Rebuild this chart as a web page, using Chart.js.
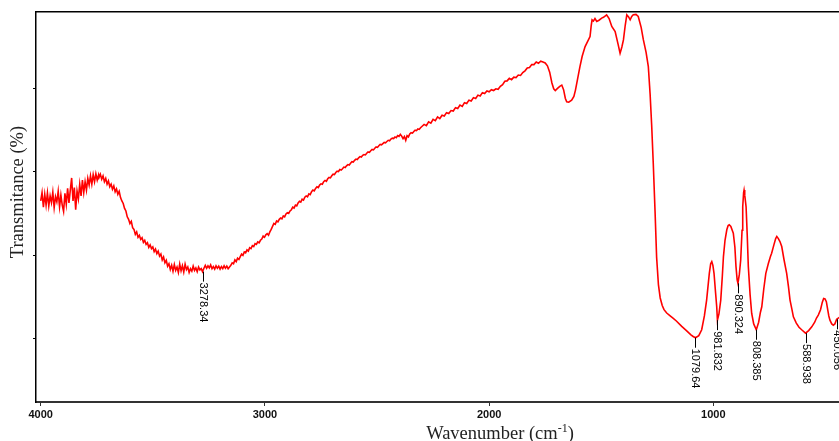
<!DOCTYPE html>
<html><head><meta charset="utf-8">
<script src="https://cdn.jsdelivr.net/npm/chart.js@4.4.1/dist/chart.umd.min.js"></script>
<style>html,body{margin:0;padding:0;background:#fff;overflow:hidden}canvas{display:block}</style>
</head><body>
<canvas id="c" width="839" height="441"></canvas>
<script>
// Tick values
const xTicks = [1000, 2000, 3000, 4000];
const yTicks = [20, 40, 60, 80];

// Spectrum segments: [wavenumber (cm-1), transmittance]
const noisyOH = [
[4000,53.0],[3994,55.0],[3988,51.5],[3982,54.6],[3976,52.0],[3970,54.9],[3964,51.8],[3958,54.2],[3952,52.6],[3946,55.1],
[3940,51.4],[3934,54.0],[3928,52.8],[3922,55.3],[3916,51.6],[3910,54.4],[3904,52.0],[3898,50.5],[3892,54.8],[3886,52.2],
[3880,56.0],[3874,52.5],[3868,55.6],[3862,58.5],[3856,53.0],[3850,56.2],[3844,50.9],[3838,55.4],[3832,53.5],[3826,57.0],
[3820,54.2],[3814,58.0],[3808,55.0],[3802,57.6],[3796,55.6],[3790,58.4],[3784,56.8],[3778,59.0],[3772,57.0],[3766,59.3],
[3760,57.6],[3754,59.5],[3748,58.0],[3742,59.2]
];
const broadBand = [
[3740,58.6],[3734,59.4],[3728,58.2],[3722,59.0],[3716,57.6],[3710,58.4],[3704,57.0],[3698,57.8],[3692,56.4],[3686,57.0],
[3680,55.8],[3674,56.6],[3668,55.2],[3662,55.9],[3656,54.6],[3650,55.3],[3644,53.8],[3638,53.0],[3632,52.4],[3626,51.2],
[3620,50.6],[3614,49.2],[3608,48.6],[3602,47.6],[3596,48.1],[3590,46.6],[3584,46.2],[3578,45.0],[3572,45.6],[3566,44.3],
[3560,44.8],[3554,43.8],[3548,44.2],[3542,43.1],[3536,43.6],[3530,42.6],[3524,43.0],[3518,41.9],[3512,42.5],[3506,41.6],
[3500,42.0],[3494,40.9],[3488,41.5],[3482,40.4],[3476,41.0],[3470,39.8],[3464,40.3],[3458,38.9],[3452,39.6],[3446,38.2],
[3440,38.8],[3434,37.4],[3428,38.0],[3422,36.6],[3416,37.6],[3410,36.2],[3404,37.8],[3398,36.4],[3392,37.2],[3386,35.9],
[3380,37.9],[3374,36.3],[3368,37.5],[3362,36.0],[3356,37.9],[3350,36.6],[3344,37.2],[3338,35.9],[3332,36.8],[3326,36.2],
[3320,37.4],[3314,36.4],[3308,37.0],[3302,36.1],[3296,37.2],[3290,36.5],[3284,36.8],[3278.34,36.1],[3272,36.9],[3266,37.6],
[3260,36.9],[3254,37.5],[3248,37.0],[3242,37.7],[3236,36.8],[3230,37.3],[3224,36.7],[3218,37.5],[3212,36.9],[3206,37.4],
[3200,36.7],[3194,37.3],[3188,36.8],[3182,37.5],[3176,36.9],[3170,37.4],[3164,36.8],[3158,37.2],[3152,37.6],[3146,38.2],
[3140,38.0],[3134,38.9],[3128,38.5],[3122,39.3],[3116,39.0],[3110,39.7],[3104,40.3],[3098,40.0],[3092,40.8],[3086,40.6],
[3080,41.3],[3074,41.0],[3068,41.8],[3062,41.6],[3056,42.3],[3050,42.1],[3044,42.8],[3038,42.6],[3032,43.2],[3026,43.0],
[3020,43.6],[3014,43.9],[3008,44.6],[3002,44.3],[2996,44.9],[2990,45.2],[2984,44.8],[2978,45.6],[2972,46.2],[2966,46.9],
[2960,47.6],[2954,47.4],[2948,48.2],[2942,48.0],[2936,48.6],[2930,48.9],[2924,48.7],[2918,49.4],[2912,49.2],[2906,49.9],
[2900,50.2],[2894,50.0],[2888,50.6],[2882,50.9],[2876,51.5],[2870,51.3],[2864,52.0],[2858,51.8],[2852,52.5],[2846,52.9],
[2840,52.7],[2834,53.4],[2828,53.2],[2822,53.9],[2816,54.2],[2810,54.0],[2804,54.7],[2798,54.5],[2792,55.2],[2786,55.6],
[2780,55.4],[2774,56.0],[2768,56.4],[2762,56.2],[2756,56.8],[2750,57.1],[2744,57.0],[2738,57.6],[2732,57.9],[2726,57.7],
[2720,58.3],[2714,58.6],[2708,58.5],[2702,59.0],[2696,59.4],[2690,59.3],[2684,59.8],[2678,60.1],[2672,60.0],[2666,60.5],
[2660,60.4],[2654,60.7],[2648,61.1],[2642,61.0],[2636,61.4],[2630,61.7],[2624,61.6],[2618,62.0],[2612,62.4],[2606,62.3],
[2600,62.7],[2594,63.0],[2588,62.9],[2582,63.3],[2576,63.6],[2570,63.5],[2564,63.9],[2558,64.1],[2552,64.0],[2546,64.4],
[2540,64.7],[2534,64.6],[2528,65.0],[2522,65.3],[2516,65.2],[2510,65.6],[2504,65.9],[2498,65.8],[2492,66.2],[2486,66.5],
[2480,66.4],[2474,66.7],[2468,67.0],[2462,66.9],[2456,67.2],[2450,67.5],[2444,67.4],[2438,67.8],[2432,68.0],[2426,67.9],
[2420,68.3],[2414,68.1],[2408,68.6],[2402,68.4],[2396,68.9],[2390,68.5],[2384,67.9],[2378,68.4],[2372,67.5],[2366,68.6],
[2360,68.3],[2354,69.0],[2348,69.3],[2342,69.2],[2336,69.6],[2330,69.9],[2324,69.8],[2318,70.2],[2312,70.1],[2306,70.5],
[2300,70.8],[2290,71.3],[2280,71.0],[2270,71.9],[2260,71.6],[2250,72.5],[2240,72.2],[2230,73.1],[2220,72.7],[2210,73.5],
[2200,73.3],[2190,74.1],[2180,73.9],[2170,74.6],[2160,74.5],[2150,75.3],[2140,75.1],[2130,75.9],[2120,75.6],[2110,76.5],
[2100,76.3],[2090,77.1],[2080,76.9],[2070,77.7],[2060,77.5],[2050,78.3],[2040,78.1],[2030,78.9],[2020,78.7],[2010,79.3],
[2000,79.1],[1990,79.6],[1980,79.4],[1970,79.8],[1960,79.7],[1950,80.4],[1940,80.8],[1930,81.6],[1920,81.7],[1910,82.3],
[1900,82.0],[1890,82.6],[1880,82.5],[1870,83.1],[1860,83.0],[1850,83.7],[1840,84.1],[1830,84.8],[1820,84.9],[1810,85.6],
[1800,85.6],[1790,86.2],[1780,85.9],[1770,86.4],[1760,86.2]
];
const midRegion = [
[1750,86.0],[1740,85.3],[1730,83.8],[1720,81.2],[1712,79.8],[1705,79.4],[1695,79.9],[1685,80.4],[1676,80.7],[1668,79.6],
[1660,77.5],[1654,76.7],[1645,76.6],[1632,77.1],[1622,78.0],[1615,79.5],[1605,82.3],[1595,85.1],[1585,87.6],[1572,89.9],
[1560,91.2],[1550,92.3],[1545,94.8],[1541,96.3],[1535,96.0],[1528,96.6],[1520,95.9],[1510,96.2],[1498,96.7],[1490,96.9],
[1476,97.5],[1465,96.6],[1453,94.7],[1438,93.5],[1425,90.5],[1416,88.3],[1408,89.8],[1401,91.5],[1393,95.0],[1386,97.5],
[1378,97.0],[1371,96.3],[1364,97.1],[1357,97.5],[1345,97.6],[1335,97.1],[1322,94.5],[1312,91.5],[1300,88.5],[1290,85.1],
[1282,78.5],[1275,71.0],[1268,62.0],[1260,50.5],[1253,39.5],[1245,33.0],[1237,29.8],[1228,28.0],[1220,27.0],[1208,26.2],
[1194,25.6],[1180,25.0],[1165,24.3],[1141,23.0],[1120,22.0],[1100,21.0],[1090,20.6]
];
const fingerprint = [
[1079.64,20.3],[1065,20.8],[1052,22.2],[1040,25.5],[1030,29.3],[1018,35.7],[1012,38.0],[1007,38.5],[1002,37.6],[997,35.7],
[990,31.0],[985,27.7],[981.832,24.5],[975,26.0],[967,29.3],[960,35.0],[955,39.7],[948,43.6],[940,46.1],[934,47.1],
[929,47.3],[922,46.9],[911,45.3],[904,42.0],[899,37.3],[894,34.2],[890.324,33.3],[884,35.5],[878,38.9],[872,46.0],
[869,51.6],[865,55.0],[863,55.6],[860,54.4],[854,51.6],[849,45.0],[844,37.3],[836,30.5],[829,26.1],[820,23.6],
[808.385,22.2],[798,24.0],[790,26.4],[784,27.7],[775,32.0],[766,35.7],[755,38.0],[745,39.8],[740,40.5],[730,42.5],
[722,44.0],[717,44.5],[710,44.0],[703,43.3],[695,42.1],[685,39.0],[673,35.7],[665,32.5],[658,29.3],[650,27.2],
[643,25.3],[630,23.8],[618,22.8],[606,22.2],[588.938,21.4],[575,22.0],[561,22.9],[548,24.0],[540,25.0],[532,25.7],
[522,27.0],[514,28.8],[508,29.7],[502,29.6],[496,28.9],[490,27.0],[485,25.5],[480,24.5],[472,23.6],[465,23.3],
[458,23.6],[450.056,24.7],[443,25.0],[436,25.2]
];

// Peak annotations
const peakLabels = ["3278.34","1079.64","981.832","890.324","808.385","588.938","450.056"];
const peakWavenumbers = [3278.34,1079.64,981.832,890.324,808.385,588.938,450.056];
const peakTransmittance = [36.1,20.3,24.5,33.3,22.2,21.4,24.7];

const spectrum = [].concat(noisyOH, broadBand, midRegion, fingerprint).map(p => ({x: p[0], y: p[1]}));

const X_MIN = 439.6, X_MAX = 4021;
const Y_MIN = 4.93, Y_MAX = 98.17;

const annotate = {
  id: 'annotate',
  afterDraw(chart) {
    const ctx = chart.ctx, xs = chart.scales.x, ys = chart.scales.y;
    ctx.save();
    ctx.strokeStyle = '#000'; ctx.lineWidth = 1; ctx.fillStyle = '#000';
    ctx.font = '11px "Liberation Sans", Arial, sans-serif';
    peakWavenumbers.forEach((w, i) => {
      const px = Math.round(xs.getPixelForValue(w)) + 0.5;
      const py = ys.getPixelForValue(peakTransmittance[i]);
      ctx.beginPath(); ctx.moveTo(px, py); ctx.lineTo(px, py + 10); ctx.stroke();
      ctx.save();
      ctx.translate(px, py + 11);
      ctx.rotate(Math.PI / 2);
      ctx.textAlign = 'left'; ctx.textBaseline = 'middle';
      ctx.fillText(peakLabels[i], 0, 0);
      ctx.restore();
    });
    // Axis titles
    ctx.fillStyle = '#222';
    ctx.font = '18.5px "Liberation Serif", "Times New Roman", serif';
    ctx.save();
    ctx.translate(18.5, 192);
    ctx.rotate(-Math.PI / 2);
    ctx.textAlign = 'center'; ctx.textBaseline = 'middle';
    ctx.fillText('Transmitance (%)', 0, 0);
    ctx.restore();
    const main = 'Wavenumber (cm', sup = '-1', close = ')';
    const fMain = '18.5px "Liberation Serif", "Times New Roman", serif';
    const fSup = '12px "Liberation Serif", "Times New Roman", serif';
    ctx.font = fMain; const w1 = ctx.measureText(main).width, w3 = ctx.measureText(close).width;
    ctx.font = fSup; const w2 = ctx.measureText(sup).width;
    let sx = 500 - (w1 + w2 + w3) / 2;
    const by = 439;
    ctx.textAlign = 'left'; ctx.textBaseline = 'alphabetic';
    ctx.font = fMain; ctx.fillText(main, sx, by); sx += w1;
    ctx.font = fSup; ctx.fillText(sup, sx, by - 7); sx += w2;
    ctx.font = fMain; ctx.fillText(close, sx, by);
    ctx.restore();
  }
};

new Chart(document.getElementById('c'), {
  type: 'line',
  data: { datasets: [{
    data: spectrum, borderColor: 'rgb(255,0,0)', borderWidth: 1.6,
    pointRadius: 0, tension: 0, fill: false, xAxisID: 'x', yAxisID: 'y'
  }]},
  options: {
    responsive: false, animation: false, devicePixelRatio: 1,
    layout: { padding: 0 },
    plugins: { legend: { display: false }, tooltip: { enabled: false } },
    scales: {
      x: {
        type: 'linear', position: 'bottom', reverse: true, min: X_MIN, max: X_MAX,
        afterBuildTicks: s => { s.ticks = xTicks.map(v => ({value: v})); },
        afterFit: s => { s.height = 39; },
        ticks: { callback: v => String(v), color: '#111', padding: 2, maxRotation: 0, autoSkip: false,
                 font: { family: '"Liberation Sans", Arial, sans-serif', size: 11, weight: 'bold' } },
        grid: { display: true, drawOnChartArea: false, drawTicks: true, tickLength: 4, color: '#333', lineWidth: 1 },
        border: { display: true, color: '#333', width: 2 }
      },
      x2: {
        type: 'linear', position: 'top', reverse: true, min: X_MIN, max: X_MAX,
        afterFit: s => { s.height = 12; },
        ticks: { display: false }, grid: { display: false },
        border: { display: true, color: '#000', width: 1.5 }
      },
      y: {
        type: 'linear', position: 'left', min: Y_MIN, max: Y_MAX,
        afterBuildTicks: s => { s.ticks = yTicks.map(v => ({value: v})); },
        afterFit: s => { s.width = 36; },
        ticks: { display: false },
        grid: { display: true, drawOnChartArea: false, drawTicks: true, tickLength: 3, color: '#000', lineWidth: 1 },
        border: { display: true, color: '#000', width: 1.5 }
      }
    }
  },
  plugins: [annotate]
});
</script>
</body></html>
